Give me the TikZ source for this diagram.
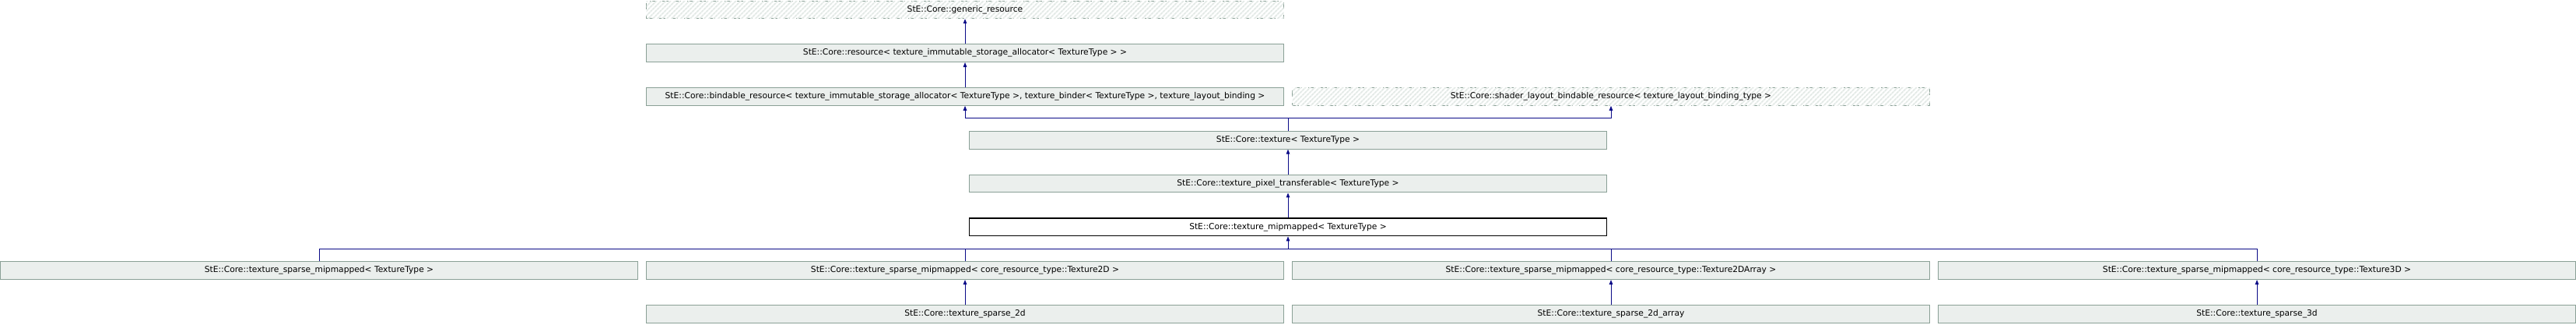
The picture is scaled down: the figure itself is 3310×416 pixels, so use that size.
\documentclass[tikz,border=0pt]{standalone}
\usepackage{fontspec}
\setmainfont{DejaVu Sans}
\usetikzlibrary{arrows.meta,patterns.meta}
\definecolor{BoxFill}{RGB}{235,239,237}
\definecolor{BoxLine}{RGB}{138,160,150}
\definecolor{HatchLine}{RGB}{228,234,231}
\definecolor{EdgeBlue}{RGB}{10,10,135}
\tikzset{
  ClassStyle/.style = { draw = BoxLine, fill = BoxFill, line width = 1pt,
    minimum width = 819pt, minimum height = 22.7pt, inner sep = 0pt,
    font = \fontsize{10.7}{12}\selectfont },
  CurrentStyle/.style = { ClassStyle, draw = black, fill = white, line width = 1.3pt },
  ExternStyle/.style = { ClassStyle, fill = white, dash pattern = on 8pt off 8pt,
    postaction = { pattern = {Lines[angle=45,distance=4pt,line width=2pt]},
      pattern color = HatchLine } },
  EdgeStyle/.style = { draw = EdgeBlue, line width = 1pt,
    -{Triangle[length=6pt,width=4.5pt]} },
  LinkStyle/.style = { draw = EdgeBlue, line width = 1pt } }

\begin{document}
\begin{tikzpicture}[x=1pt,y=1pt]
  \useasboundingbox (0,0) rectangle (3310,-416);
  \node[ExternStyle]  (generic)   at (1240,-12.35)  {StE::Core::generic\_resource};
  \node[ClassStyle]   (resource)  at (1240,-68.15)  {StE::Core::resource< texture\_immutable\_storage\_allocator< TextureType > >};
  \node[ClassStyle]   (bindable)  at (1240,-123.95) {StE::Core::bindable\_resource< texture\_immutable\_storage\_allocator< TextureType >, texture\_binder< TextureType >, texture\_layout\_binding >};
  \node[ExternStyle]  (shader)    at (2070,-123.95) {StE::Core::shader\_layout\_bindable\_resource< texture\_layout\_binding\_type >};
  \node[ClassStyle]   (texture)   at (1655,-179.75) {StE::Core::texture< TextureType >};
  \node[ClassStyle]   (pixel)     at (1655,-235.55) {StE::Core::texture\_pixel\_transferable< TextureType >};
  \node[CurrentStyle] (mipmapped) at (1655,-291.35) {StE::Core::texture\_mipmapped< TextureType >};
  \node[ClassStyle]   (sparseT)   at (410,-347.15)  {StE::Core::texture\_sparse\_mipmapped< TextureType >};
  \node[ClassStyle]   (sparse2D)  at (1240,-347.15) {StE::Core::texture\_sparse\_mipmapped< core\_resource\_type::Texture2D >};
  \node[ClassStyle]   (sparse2DA) at (2070,-347.15) {StE::Core::texture\_sparse\_mipmapped< core\_resource\_type::Texture2DArray >};
  \node[ClassStyle]   (sparse3D)  at (2900,-347.15) {StE::Core::texture\_sparse\_mipmapped< core\_resource\_type::Texture3D >};
  \node[ClassStyle]   (s2d)       at (1240,-402.95) {StE::Core::texture\_sparse\_2d};
  \node[ClassStyle]   (s2da)      at (2070,-402.95) {StE::Core::texture\_sparse\_2d\_array};
  \node[ClassStyle]   (s3d)       at (2900,-402.95) {StE::Core::texture\_sparse\_3d};
  % junctions
  \coordinate (jtex) at (1655,-151.85);
  \coordinate (jmip) at (1655,-319.6);
  % single inheritance
  \draw[EdgeStyle] (resource.north) -- (generic.south);
  \draw[EdgeStyle] (bindable.north) -- (resource.south);
  \draw[EdgeStyle] (pixel.north) -- (texture.south);
  \draw[EdgeStyle] (mipmapped.north) -- (pixel.south);
  \draw[EdgeStyle] (s2d.north) -- (sparse2D.south);
  \draw[EdgeStyle] (s2da.north) -- (sparse2DA.south);
  \draw[EdgeStyle] (s3d.north) -- (sparse3D.south);
  % texture has two bases
  \draw[LinkStyle] (texture.north) -- (jtex);
  \draw[EdgeStyle] (jtex) -| (bindable.south);
  \draw[EdgeStyle] (jtex) -| (shader.south);
  % four children of mipmapped
  \draw[EdgeStyle] (jmip) -- (mipmapped.south);
  \foreach \child in {sparseT,sparse2D,sparse2DA,sparse3D}
    \draw[LinkStyle] (\child.north) |- (jmip);
\end{tikzpicture}
\end{document}
